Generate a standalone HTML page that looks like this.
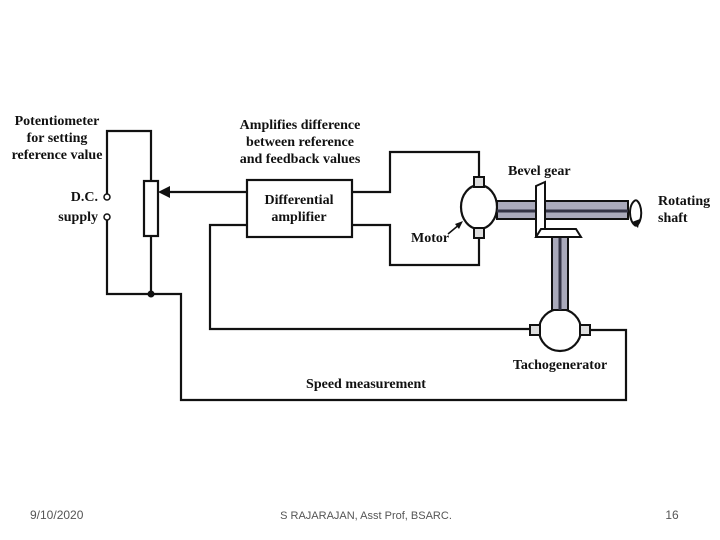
<!DOCTYPE html>
<html><head><style>
html,body{margin:0;padding:0;background:#fff;width:720px;height:540px;overflow:hidden}
svg{display:block}
.t{font-family:"Liberation Serif",serif;font-weight:bold;font-size:14px;fill:#111}
.f{font-family:"Liberation Sans",sans-serif;font-size:12px;fill:#555}
</style></head><body>
<svg width="720" height="540" viewBox="0 0 720 540" xmlns="http://www.w3.org/2000/svg">
<g fill="none" stroke="#111" stroke-width="2.2">
<polyline points="107,194 107,131 151,131 151,181"/>
<polyline points="107,220 107,294 151,294 151,236"/>
<rect x="144" y="181" width="14" height="55"/>
<polyline points="151,294 181,294 181,400 626,400 626,330 589,330"/>
<line x1="247" y1="192" x2="166" y2="192"/>
<rect x="247" y="180" width="105" height="57"/>
<polyline points="352,192 390,192 390,152 479,152 479,179"/>
<polyline points="352,225 390,225 390,265 479,265 479,236"/>
<polyline points="247,225 210,225 210,329 531,329"/>
<ellipse cx="479" cy="207" rx="18" ry="22" fill="#fff"/>
<ellipse cx="560" cy="330" rx="21" ry="21" fill="#fff"/>
</g>
<circle cx="107" cy="197" r="3" fill="#fff" stroke="#111" stroke-width="1.5"/>
<circle cx="107" cy="217" r="3" fill="#fff" stroke="#111" stroke-width="1.5"/>
<circle cx="151" cy="294" r="3.5" fill="#111"/>
<polygon points="158,192 170,186 170,198" fill="#111"/>
<g fill="#ddd" stroke="#111" stroke-width="2">
<rect x="474" y="177" width="10" height="10"/>
<rect x="474" y="228" width="10" height="10"/>
<rect x="530" y="325" width="10" height="10"/>
<rect x="580" y="325" width="10" height="10"/>
</g>
<rect x="497" y="201" width="131" height="18" fill="#aab" stroke="#111" stroke-width="2"/>
<line x1="497" y1="211" x2="628" y2="211" stroke="#334" stroke-width="3"/>
<rect x="552" y="237" width="16" height="73" fill="#aab" stroke="#111" stroke-width="2"/>
<line x1="560" y1="237" x2="560" y2="310" stroke="#334" stroke-width="3"/>
<polygon points="536,186 545,182 545,237 536,237" fill="#fff" stroke="#111" stroke-width="2"/>
<polygon points="536,237 541,229 576,229 581,237" fill="#fff" stroke="#111" stroke-width="2"/>
<path d="M636,200 C628,203 628,222 636,226 M636,200 C643,204 643,222 636,226" fill="none" stroke="#111" stroke-width="2"/>
<polygon points="632,222 638,228 640,219" fill="#111"/>
<line x1="448" y1="234" x2="460" y2="224" stroke="#111" stroke-width="1.5"/>
<polygon points="463,221 455,224 459,229" fill="#111"/>
<text class="t" x="57" y="125" text-anchor="middle">Potentiometer</text>
<text class="t" x="57" y="142" text-anchor="middle">for setting</text>
<text class="t" x="57" y="159" text-anchor="middle">reference value</text>
<text class="t" x="98" y="201" text-anchor="end">D.C.</text>
<text class="t" x="98" y="221" text-anchor="end">supply</text>
<text class="t" x="300" y="129" text-anchor="middle">Amplifies difference</text>
<text class="t" x="300" y="146" text-anchor="middle">between reference</text>
<text class="t" x="300" y="163" text-anchor="middle">and feedback values</text>
<text class="t" x="299" y="204" text-anchor="middle">Differential</text>
<text class="t" x="299" y="221" text-anchor="middle">amplifier</text>
<text class="t" x="411" y="242">Motor</text>
<text class="t" x="508" y="175">Bevel gear</text>
<text class="t" x="658" y="205">Rotating</text>
<text class="t" x="658" y="222">shaft</text>
<text class="t" x="560" y="369" text-anchor="middle">Tachogenerator</text>
<text class="t" x="366" y="388" text-anchor="middle">Speed measurement</text>
<text class="f" x="30" y="519">9/10/2020</text>
<text class="f" x="366" y="519" text-anchor="middle" style="font-size:11px">S RAJARAJAN, Asst Prof, BSARC.</text>
<text class="f" x="672" y="519" text-anchor="middle">16</text>
</svg>
</body></html>
